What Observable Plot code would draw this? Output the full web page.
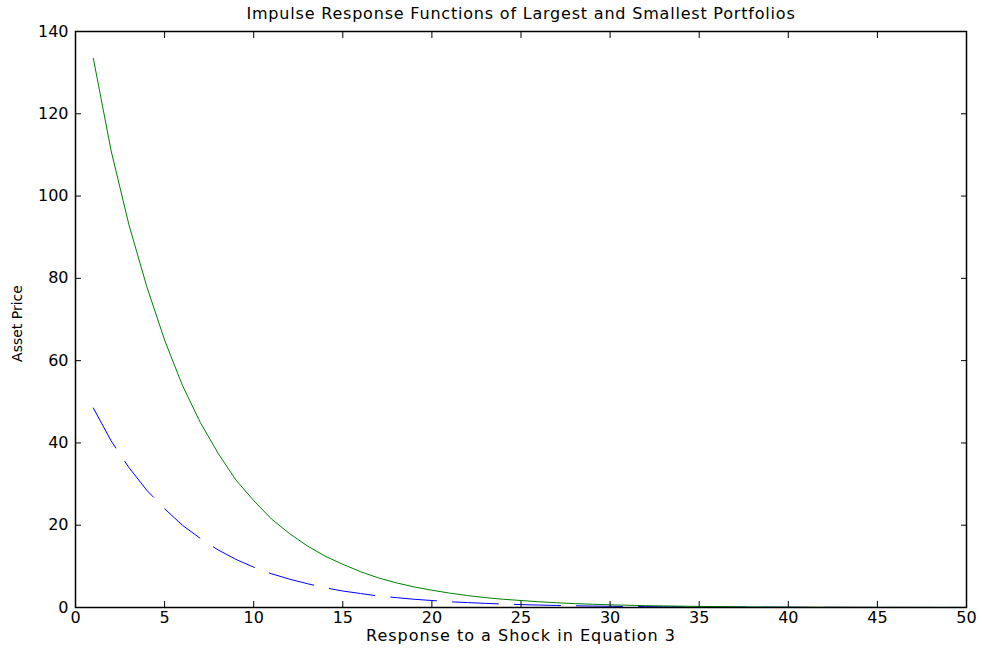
<!DOCTYPE html>
<html>
<head>
<meta charset="utf-8">
<script src="https://cdn.jsdelivr.net/npm/d3@7"></script>
<script src="https://cdn.jsdelivr.net/npm/@observablehq/plot@0.6"></script>
<style>
  html, body { margin: 0; padding: 0; background: #fff; }
  #chart svg { display: block; }
</style>
</head>
<body>
<div id="chart"></div>
<script>
const titleText = "Impulse Response Functions of Largest and Smallest Portfolios";
const xLabel = "Response to a Shock in Equation 3";
const yLabel = "Asset Price";

const steps = d3.range(1, 51);
const largest = [133.5,111,93,78,65,54,45,37.5,31,26,21.5,18,15,12.5,10.5,8.7,7.2,6.0,5.0,4.2,3.5,2.9,2.4,2.0,1.7,1.4,1.15,0.95,0.8,0.65,0.55,0.45,0.38,0.32,0.26,0.22,0.18,0.15,0.12,0.1,0.085,0.07,0.06,0.05,0.04,0.035,0.03,0.025,0.02,0.015];
const smallest = [48.5,40.5,34,28.5,24,20,16.8,14,11.7,9.8,8.2,6.9,5.8,4.8,4.0,3.4,2.8,2.4,2.0,1.7,1.4,1.2,1.0,0.84,0.7,0.59,0.5,0.42,0.35,0.29,0.25,0.21,0.17,0.15,0.12,0.1,0.085,0.07,0.06,0.05,0.04,0.035,0.03,0.025,0.02,0.017,0.014,0.012,0.01,0.008];

const xTicks = d3.range(0, 51, 5);
const yTicks = d3.range(0, 141, 20);

const large = steps.map((s, i) => ({x: s, y: largest[i]}));
const small = steps.map((s, i) => ({x: s, y: smallest[i]}));

const blank = () => "";

const chart = Plot.plot({
  width: 982,
  height: 655,
  marginLeft: 75,
  marginRight: 16,
  marginTop: 31,
  marginBottom: 48,
  style: {fontFamily: "DejaVu Sans", fontSize: "16px", color: "black", background: "white"},
  x: {domain: [0, 50]},
  y: {domain: [0, 140]},
  marks: [
    Plot.line(small, {x: "x", y: "y", stroke: "#0000ff", strokeWidth: 1, strokeDasharray: "46,16"}),
    Plot.line(large, {x: "x", y: "y", stroke: "#008000", strokeWidth: 1}),
    Plot.axisX({ticks: xTicks, tickSize: 0, tickPadding: 4, label: null, fontSize: 16}),
    Plot.axisY({ticks: yTicks, tickSize: 0, tickPadding: 7, label: null, fontSize: 16}),
    Plot.axisX({anchor: "bottom", ticks: xTicks, tickSize: 6, dy: -6, tickFormat: blank, label: null}),
    Plot.axisX({anchor: "top", ticks: xTicks, tickSize: 6, dy: 6, tickFormat: blank, label: null}),
    Plot.axisY({anchor: "left", ticks: yTicks, tickSize: 6, dx: 6, tickFormat: blank, label: null}),
    Plot.axisY({anchor: "right", ticks: yTicks, tickSize: 6, dx: -6, tickFormat: blank, label: null}),
    Plot.frame({stroke: "black", strokeWidth: 1.5}),
    Plot.text([titleText], {frameAnchor: "top", dy: -24, fontSize: 16, text: d => d}),
    Plot.text([xLabel], {frameAnchor: "bottom", dy: 33, fontSize: 16, text: d => d}),
    Plot.text([yLabel], {frameAnchor: "left", dx: -58, dy: 4, rotate: -90, textAnchor: "middle", fontSize: 14, text: d => d})
  ]
});
const textGroups = d3.select(chart).selectAll('g[aria-label="text"]').nodes();
if (textGroups.length >= 2) {
  d3.select(textGroups[0]).selectAll("text").attr("letter-spacing", "0.8px");
  d3.select(textGroups[1]).selectAll("text").attr("letter-spacing", "1px");
}
document.getElementById("chart").appendChild(chart);
</script>
</body>
</html>
